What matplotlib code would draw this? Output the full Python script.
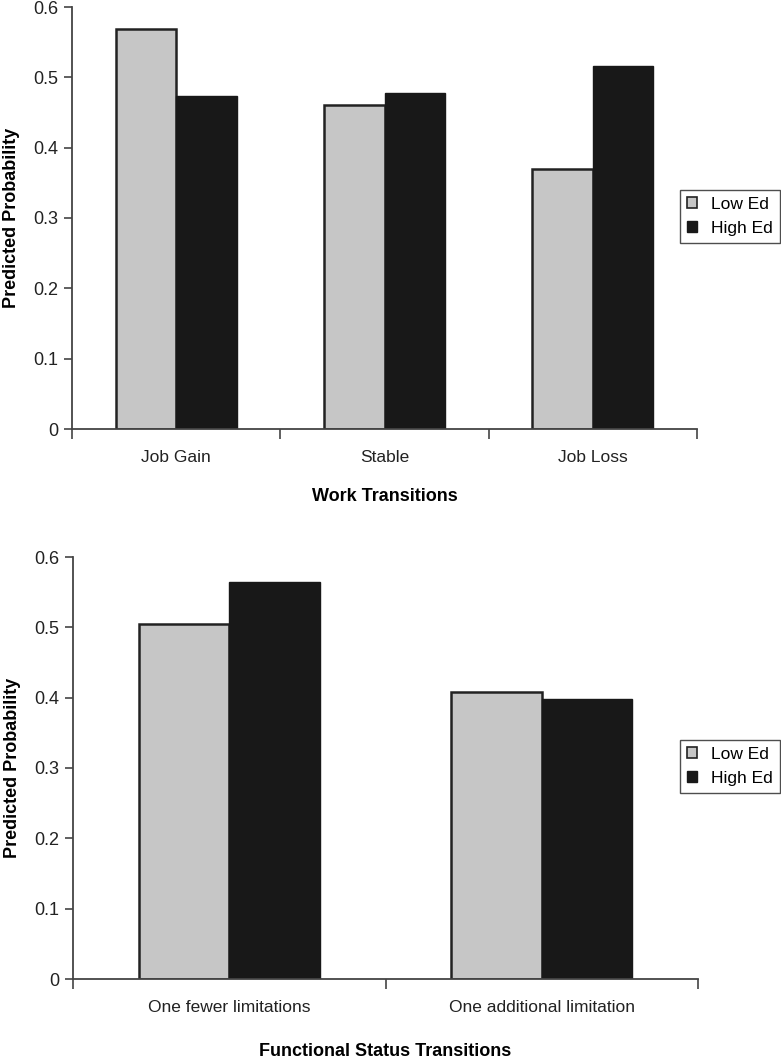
import matplotlib.pyplot as plt
from matplotlib.patches import Patch
import numpy as np

plt.rcParams['font.family'] = ['Liberation Sans', 'DejaVu Sans']

# ---- data ----
work_cats = ["Job Gain", "Stable", "Job Loss"]
work_low = [0.569, 0.461, 0.370]
work_high = [0.473, 0.478, 0.516]

func_cats = ["One fewer limitations", "One additional limitation"]
func_low = [0.505, 0.408]
func_high = [0.565, 0.398]

series_names = ["Low Ed", "High Ed"]
LOW_C = "#c6c6c6"
HIGH_C = "#181818"
AX_C = "#444444"

W, H = 781, 1058
fig = plt.figure(figsize=(W / 100, H / 100), dpi=100)


def panel(rect, cats, low, high, xlabel, xpad, legend_top):
    ax = fig.add_axes(rect)
    x = np.arange(len(cats))
    bw = 0.29
    ax.bar(x - bw / 2, low, bw, color=LOW_C, edgecolor="#222222", linewidth=1.8, zorder=2)
    ax.bar(x + bw / 2, high, bw, color=HIGH_C, edgecolor=HIGH_C, linewidth=1.0, zorder=2)
    ax.set_xlim(-0.5, len(cats) - 0.5)
    ax.set_ylim(0, 0.6)
    ax.set_yticks([0, 0.1, 0.2, 0.3, 0.4, 0.5, 0.6])
    ax.set_yticklabels(["0", "0.1", "0.2", "0.3", "0.4", "0.5", "0.6"], fontsize=13, color="#222222")
    # category boundaries as major ticks, names on minor ticks
    ax.set_xticks(np.arange(len(cats) + 1) - 0.5)
    ax.set_xticklabels([])
    ax.set_xticks(x, minor=True)
    ax.set_xticklabels(cats, minor=True, fontsize=12.5, color="#222222")
    ax.tick_params(axis="x", which="major", length=7, color=AX_C, width=1.2)
    ax.tick_params(axis="x", which="minor", length=0, pad=15)
    ax.tick_params(axis="y", length=6, color=AX_C, width=1.2, pad=4)
    for s in ["top", "right"]:
        ax.spines[s].set_visible(False)
    for s in ["left", "bottom"]:
        ax.spines[s].set_color(AX_C)
        ax.spines[s].set_linewidth(1.3)
    ax.set_ylabel("Predicted Probability", fontsize=13, fontweight="bold", labelpad=9)
    ax.set_xlabel(xlabel, fontsize=13, fontweight="bold", labelpad=xpad)
    handles = [Patch(facecolor=LOW_C, edgecolor="#222222", linewidth=1.2),
               Patch(facecolor=HIGH_C, edgecolor=HIGH_C)]
    ax.legend(handles, series_names, loc="upper left",
              bbox_to_anchor=(680 / W, 1 - legend_top / H), bbox_transform=fig.transFigure,
              borderaxespad=0, fancybox=False, frameon=True, edgecolor="#222222",
              fontsize=12.5, handlelength=0.6, handleheight=0.6, handletextpad=0.8,
              borderpad=0.4, labelspacing=0.5)
    ax.get_legend().get_frame().set_linewidth(1.0)
    return ax


panel([72 / W, 1 - 429 / H, 625 / W, 422 / H], work_cats, work_low, work_high,
      "Work Transitions", 17, 190)
panel([73 / W, 1 - 979 / H, 625 / W, 422 / H], func_cats, func_low, func_high,
      "Functional Status Transitions", 20, 740)

fig.savefig("out.png", dpi=100)
